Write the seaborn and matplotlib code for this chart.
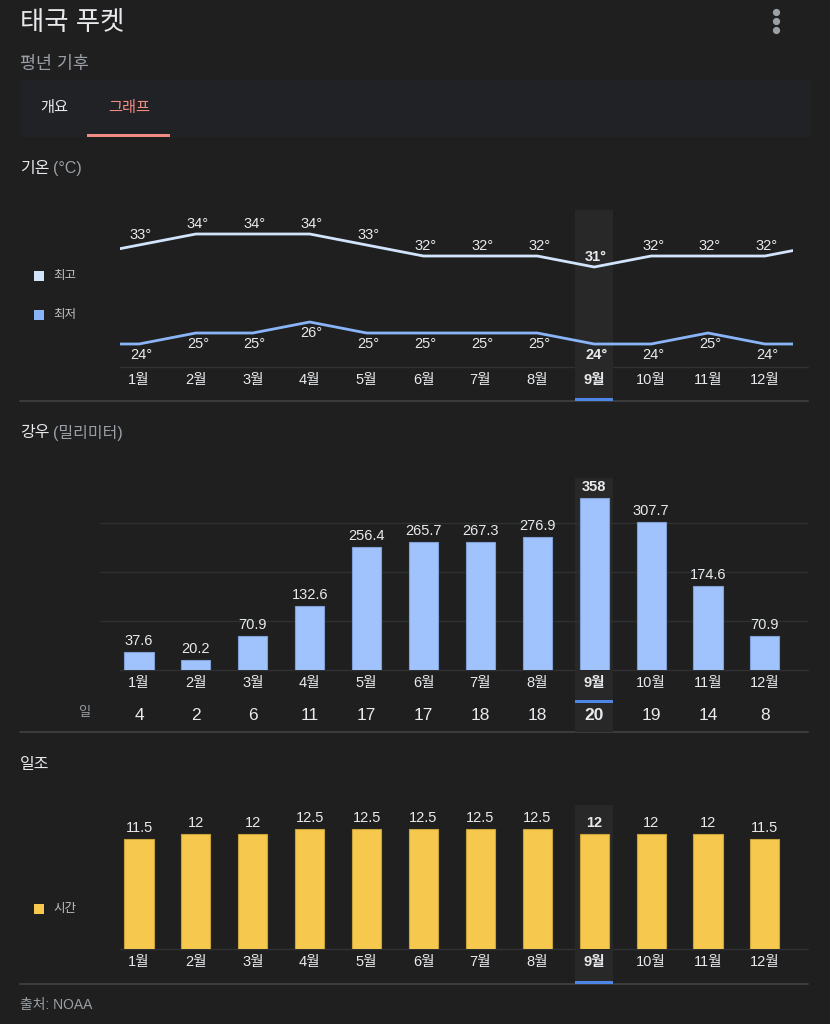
import numpy as np
import pandas as pd
import matplotlib
matplotlib.use('Agg')
import matplotlib.pyplot as plt
import seaborn as sns
from matplotlib.patches import Rectangle

# data
months = ['1월', '2월', '3월', '4월', '5월', '6월', '7월', '8월', '9월', '10월', '11월', '12월']
temp_high = [33, 34, 34, 34, 33, 32, 32, 32, 31, 32, 32, 32]
temp_low = [24, 25, 25, 26, 25, 25, 25, 25, 24, 24, 25, 24]
rain_mm = [37.6, 20.2, 70.9, 132.6, 256.4, 265.7, 267.3, 276.9, 358, 307.7, 174.6, 70.9]
rain_days = [4, 2, 6, 11, 17, 17, 18, 18, 20, 19, 14, 8]
sun_hours = [11.5, 12, 12, 12.5, 12.5, 12.5, 12.5, 12.5, 12, 12, 12, 11.5]
current = 8  # 9월

sns.set_style('dark')
plt.rcParams['font.family'] = ['Liberation Sans', 'Noto Sans CJK KR', 'DejaVu Sans']

BG = '#1f1f1f'
TXT = '#e8eaed'
GRAY = '#9aa0a6'
SEP = '#3a3b3d'
HL = '#282828'
BLUE = '#4d86e6'
HI_C = '#d2e3fc'
LO_C = '#8ab4f8'
RAIN_C = '#a0c3fd'
SUN_C = '#f6c94e'

W, H = 830, 1024
fig = plt.figure(figsize=(W / 100, H / 100), dpi=100, facecolor=BG)

# background axes in pixel coordinates for the page decorations
bg = fig.add_axes([0, 0, 1, 1])
bg.set_xlim(0, W)
bg.set_ylim(H, 0)
bg.axis('off')
bg.set_facecolor(BG)

bg.text(20, 23, '태국 푸켓', fontsize=19, color=TXT, va='center', ha='left', fontweight='medium')
bg.text(20, 64, '평년 기후', fontsize=12.5, color=GRAY, va='center', ha='left')
for yy in (12, 21, 30):
    bg.plot(776, yy, 'o', color=GRAY, ms=4.2)
bg.add_patch(Rectangle((20, 80), 790, 57, color='#212226', lw=0))
bg.text(40, 108, '개요', fontsize=11, color=TXT, va='center')
bg.text(108, 108, '그래프', fontsize=11, color='#f28b82', va='center')
bg.add_patch(Rectangle((87, 134), 83, 3, color='#f28b82', lw=0))

for y, head, unit in [(169, '기온', '(°C)'), (433, '강우', '(밀리미터)'), (764, '일조', None)]:
    bg.text(20, y, head, fontsize=11.5, color=TXT, va='center')
    if unit:
        bg.text(53, y, unit, fontsize=11.5, color=GRAY, va='center')

for y in (401, 732, 984):
    bg.plot([20, 808], [y, y], color=SEP, lw=1.5)

# legends
for y, lab, c in [(276, '최고', HI_C), (315, '최저', LO_C), (909, '시간', SUN_C)]:
    bg.add_patch(Rectangle((34, y - 5), 10, 10, color=c, lw=0))
    bg.text(53, y, lab, fontsize=9, color='#bdc1c6', va='center')
bg.text(84, 713, '일', fontsize=9.5, color=GRAY, va='center', ha='center')
bg.text(20, 1005, '출처: NOAA', fontsize=10, color=GRAY, va='center')

X0, SP = 139, 56.9
XL = ((100 - X0) / SP, (808 - X0) / SP)


def add_ax(y0, y1):
    ax = fig.add_axes([100 / W, 1 - y1 / H, 708 / W, (y1 - y0) / H])
    ax.set_facecolor('none')
    ax.set_xlim(*XL)
    for s in ax.spines.values():
        s.set_visible(False)
    ax.set_xticks([])
    ax.set_yticks([])
    return ax


def highlight(ax, y0, y1, top, bottom, mark):
    h = y1 - y0
    ax.axvspan(current - 0.335, current + 0.335, ymin=-(bottom - y1) / h, ymax=(y1 - top) / h,
               color=HL, lw=0, clip_on=False, zorder=0)
    ax.axvspan(current - 0.335, current + 0.335, ymin=-(mark + 3 - y1) / h, ymax=-(mark - y1) / h,
               color=BLUE, lw=0, clip_on=False, zorder=1)


def month_labels(ax, dy=13):
    for i, m in enumerate(months):
        ax.annotate(m, xy=(i, 0), xycoords=('data', 'axes fraction'), xytext=(0, -dy),
                    textcoords='offset pixels', ha='center', va='center', fontsize=10.5,
                    color=TXT, fontweight='bold' if i == current else 'normal')


def baseline(y_px):
    bg.plot([120, 808], [y_px, y_px], color='#303134', lw=1, zorder=0)


# ---- temperature ----
ty0, ty1 = 210, 367
ax1 = add_ax(ty0, ty1)
ax1.set_ylim(34 - (ty1 - 234) / 11, 34 + (234 - ty0) / 11)
highlight(ax1, ty0, ty1, 210, 401, 398)
baseline(367)
x_ext = np.arange(-1, 13)
temp_df = pd.DataFrame({'x': x_ext,
                        'high': [temp_high[-1]] + temp_high + [temp_high[0]],
                        'low': [temp_low[-1]] + temp_low + [temp_low[0]]})
clip = Rectangle(((120 - X0) / SP, 0), (793 - 120) / SP, 100, transform=ax1.transData)
sns.lineplot(data=temp_df, x='x', y='high', color=HI_C, lw=2, ax=ax1)
sns.lineplot(data=temp_df, x='x', y='low', color=LO_C, lw=2, ax=ax1)
for ln in ax1.lines:
    ln.set_clip_path(clip)
ax1.set_xlim(*XL)
ax1.set_xlabel('')
ax1.set_ylabel('')
for i in range(12):
    w = 'bold' if i == current else 'normal'
    ax1.annotate(f'{temp_high[i]}°', (i, temp_high[i]), xytext=(2, 10), textcoords='offset pixels',
                 ha='center', va='center', fontsize=10.5, color=TXT, fontweight=w)
    ax1.annotate(f'{temp_low[i]}°', (i, temp_low[i]), xytext=(2, -11), textcoords='offset pixels',
                 ha='center', va='center', fontsize=10.5, color=TXT, fontweight=w)
month_labels(ax1)

# ---- rain ----
ry0, ry1 = 472, 670
ax2 = add_ax(ry0, ry1)
highlight(ax2, ry0, ry1, 478, 732, 700)
rain_df = pd.DataFrame({'month': months, 'mm': rain_mm})
sns.barplot(data=rain_df, x='month', y='mm', order=months, color=RAIN_C, saturation=1,
            width=0.51, edgecolor='#7f9fd6', linewidth=0.8, ax=ax2, zorder=2)
ax2.set_xlim(*XL)
ax2.set_ylim(0, (ry1 - ry0) / 0.48)
ax2.set_xticks([])
ax2.set_yticks([])
ax2.set_xlabel('')
ax2.set_ylabel('')
for g in (102, 204, 306):
    ax2.axhline(g, color='#2e2f31', lw=1, zorder=1)
baseline(670)
for i, v in enumerate(rain_mm):
    w = 'bold' if i == current else 'normal'
    ax2.annotate(f'{v:g}', (i, v), xytext=(0, 11), textcoords='offset pixels', ha='center',
                 va='center', fontsize=10.5, color=TXT, fontweight=w)
    ax2.annotate(str(rain_days[i]), xy=(i, 0), xycoords=('data', 'axes fraction'), xytext=(0, -46),
                 textcoords='offset pixels', ha='center', va='center', fontsize=12.5, color=TXT,
                 fontweight=w)
month_labels(ax2)

# ---- sunshine ----
sy0, sy1 = 800, 949
ax3 = add_ax(sy0, sy1)
highlight(ax3, sy0, sy1, 805, 984, 981)
sun_df = pd.DataFrame({'month': months, 'hours': sun_hours})
sns.barplot(data=sun_df, x='month', y='hours', order=months, color=SUN_C, saturation=1,
            width=0.51, edgecolor='#c9a33a', linewidth=0.8, ax=ax3, zorder=2)
ax3.set_xlim(*XL)
ax3.set_ylim(0, (sy1 - sy0) / 9.6)
ax3.set_xticks([])
ax3.set_yticks([])
ax3.set_xlabel('')
ax3.set_ylabel('')
baseline(949)
for i, v in enumerate(sun_hours):
    ax3.annotate(f'{v:g}', (i, v), xytext=(0, 11), textcoords='offset pixels', ha='center',
                 va='center', fontsize=10.5, color=TXT,
                 fontweight='bold' if i == current else 'normal')
month_labels(ax3)

fig.savefig('out.png', dpi=100, facecolor=BG)
